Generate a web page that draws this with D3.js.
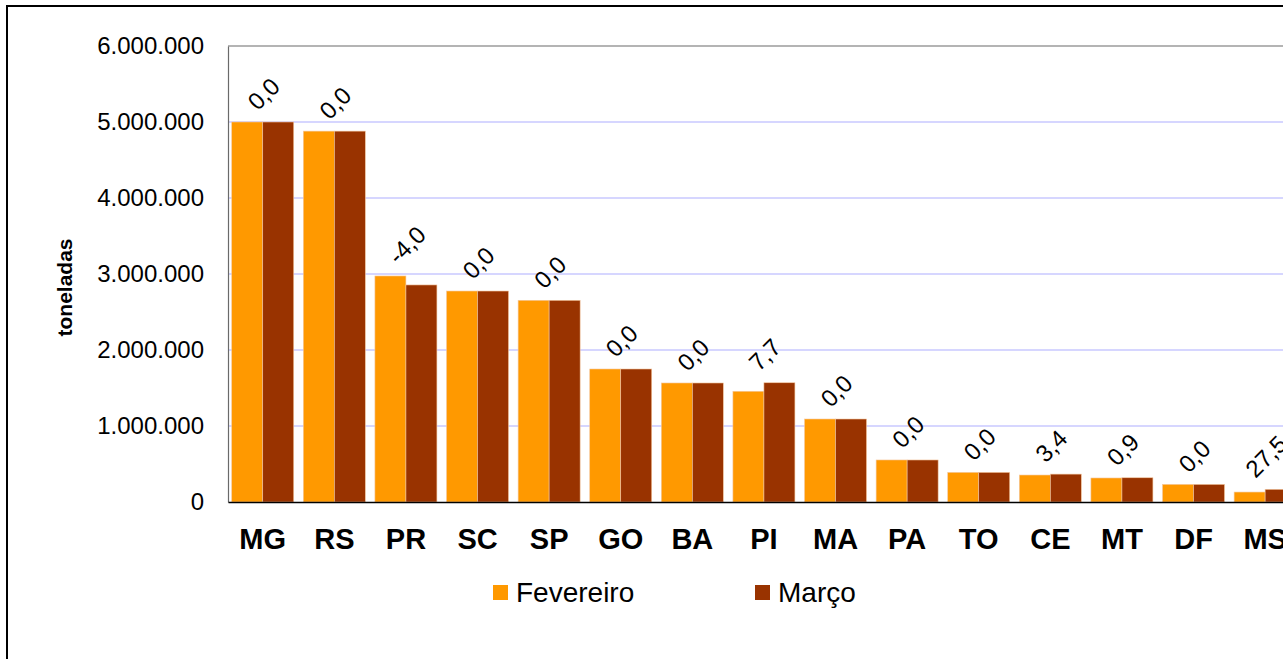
<!DOCTYPE html>
<html><head><meta charset="utf-8">
<script src="https://cdn.jsdelivr.net/npm/d3@7"></script>
<style>
html,body{margin:0;padding:0;background:#fff;overflow:hidden}
text{font-family:Arial,"Liberation Sans",sans-serif}
</style></head>
<body>
<svg id="chart" width="1283" height="659"></svg>
<script>
const categories = ["MG","RS","PR","SC","SP","GO","BA","PI","MA","PA","TO","CE","MT","DF","MS"];
const fevereiro = [5000000,4880000,2974000,2776000,2654000,1750000,1566000,1457000,1092000,553000,390000,355000,316000,232000,131000];
const marco     = [5000000,4880000,2856000,2776000,2654000,1750000,1566000,1569000,1092000,553000,390000,367000,319000,232000,167000];
const variacao  = ["0,0","0,0","-4,0","0,0","0,0","0,0","0,0","7,7","0,0","0,0","0,0","3,4","0,9","0,0","27,5"];
const yTicks = [0,1000000,2000000,3000000,4000000,5000000,6000000];
const seriesNames = ["Fevereiro","Março"];
const colors = ["#FF9900","#993300"];

(function(){
const svg = d3.select("#chart");
const plotLeft = 228, plotTop = 46, plotBottom = 502;
const step = 71.6;
const rightEnd = plotLeft + step * (categories.length - 0.134 + 0.104);

// outer frame
svg.append("rect").attr("x",7).attr("y",6).attr("width",1400).attr("height",800)
  .attr("fill","none").attr("stroke","#000").attr("stroke-width",2);

const x = d3.scaleBand().domain(categories).range([plotLeft, rightEnd]).paddingInner(0.134).paddingOuter(0.052);
const xs = d3.scaleBand().domain(seriesNames).range([0, x.bandwidth()]);
const y = d3.scaleLinear().domain([0,6000000]).range([plotBottom, plotTop]);

// gridlines
svg.append("g").selectAll("line").data(yTicks.filter(d=>d>0 && d<6000000)).join("line")
  .attr("x1",plotLeft).attr("x2",1300).attr("y1",d=>y(d)).attr("y2",d=>y(d))
  .attr("stroke","#c8c8ff").attr("stroke-width",1.3);

// plot border top
svg.append("line").attr("x1",plotLeft).attr("x2",1300).attr("y1",plotTop).attr("y2",plotTop).attr("stroke","#6a6a6a").attr("stroke-width",1.2);

// y axis
const yAxis = d3.axisLeft(y).tickValues(yTicks).tickSize(0).tickPadding(24)
  .tickFormat(d => d3.format(",")(d).replace(/,/g,"."));
const gy = svg.append("g").attr("transform",`translate(${plotLeft},0)`).call(yAxis);
gy.select(".domain").attr("stroke","#6a6a6a").attr("stroke-width",1.2);
gy.selectAll("text").attr("font-size",24).attr("fill","#000")
  .attr("font-family","Arial, 'Liberation Sans', sans-serif");

// bars
const groups = svg.append("g").selectAll("g").data(categories).join("g")
  .attr("transform", d => `translate(${x(d)},0)`);
groups.each(function(c,i){
  const g = d3.select(this);
  [fevereiro[i], marco[i]].forEach((v,k)=>{
    g.append("rect").attr("x", xs(seriesNames[k])).attr("width", xs.bandwidth())
      .attr("y", y(v)).attr("height", y(0)-y(v))
      .attr("fill", colors[k]).attr("stroke","#f4c8a0").attr("stroke-width",0.6);
  });
});

// x axis
const xAxis = d3.axisBottom(x).tickSize(0).tickPadding(26);
const gx = svg.append("g").attr("transform",`translate(0,${plotBottom})`).call(xAxis);
gx.select(".domain").attr("stroke","#000").attr("stroke-width",1.5);
gx.selectAll("text").attr("font-size",29).attr("font-weight","bold").attr("fill","#000")
  .attr("font-family","Arial, 'Liberation Sans', sans-serif");

// data labels
svg.append("g").selectAll("text").data(categories).join("text")
  .each(function(c,i){
    const t = d3.select(this);
    t.text(variacao[i]).attr("font-size",24).attr("text-anchor","middle").attr("dy","0.35em");
    const len = this.getComputedTextLength();
    const topV = Math.max(fevereiro[i], marco[i]);
    const cx = x(c) + x.bandwidth()/2 + 1;
    const cy = y(topV) - 10 - (len + 18) * 0.3535;
    t.attr("transform", `translate(${cx},${cy}) rotate(-45)`);
  });

// y title
svg.append("text").attr("transform","translate(64.5,287.5) rotate(-90)")
  .attr("text-anchor","middle").attr("dy","0.35em")
  .attr("font-size",21).attr("font-weight","bold").text("toneladas");

// legend
const legendX = [493, 755];
seriesNames.forEach((n,k)=>{
  svg.append("rect").attr("x",legendX[k]).attr("y",585).attr("width",15).attr("height",15).attr("fill",colors[k]);
  svg.append("text").attr("x",legendX[k]+23).attr("y",602).attr("font-size",28).text(n);
});
})();
</script>
</body></html>
